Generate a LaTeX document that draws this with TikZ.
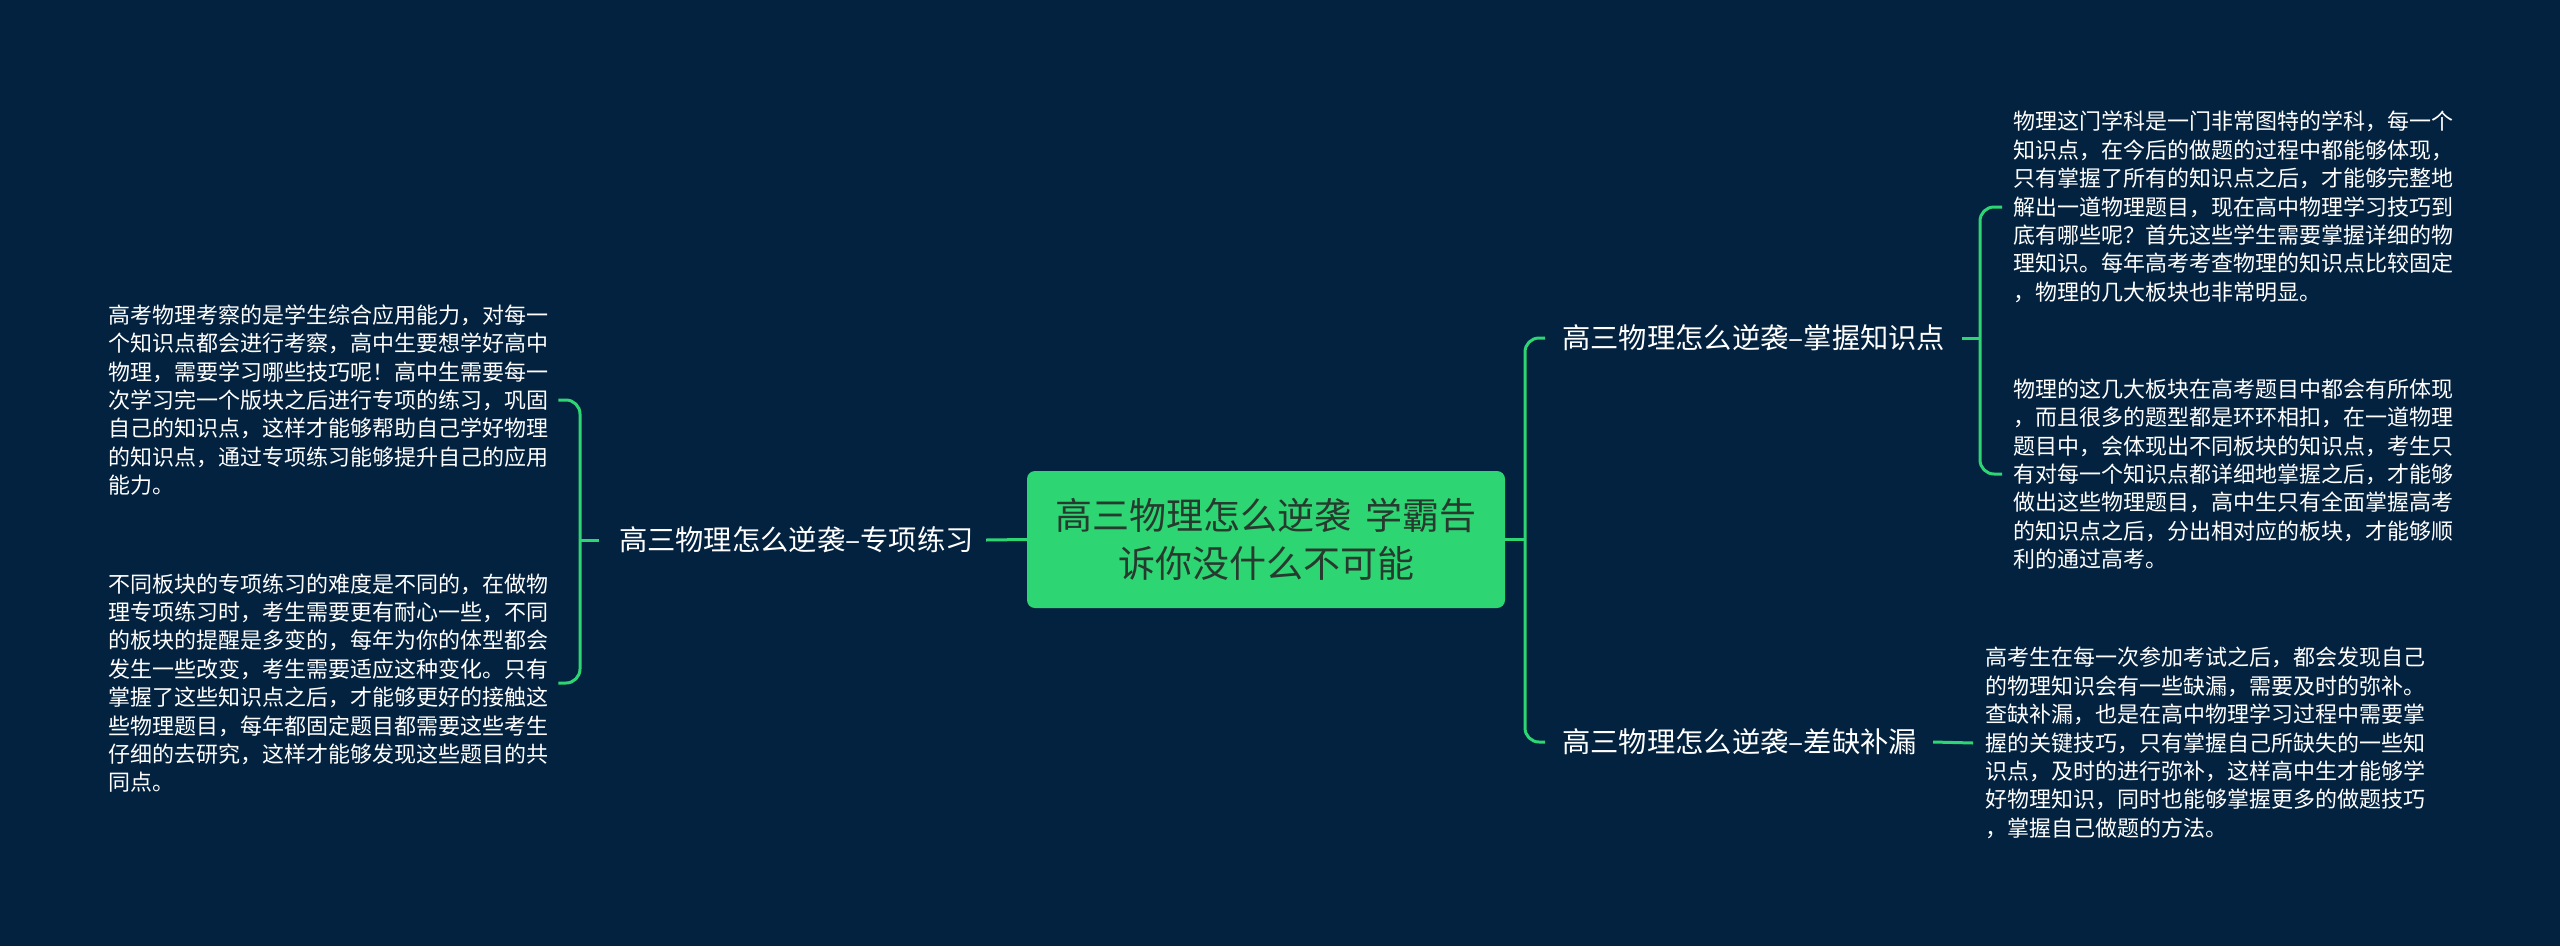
\documentclass[tikz,border=0pt]{standalone}
\usepackage{fontspec}
\setmainfont{Noto Sans CJK SC}
\usetikzlibrary{calc}
\definecolor{bg}{HTML}{03223F}
\definecolor{gr}{HTML}{2ED573}
\definecolor{ctext}{HTML}{263A2E}
\begin{document}
\begin{tikzpicture}[x=1pt,y=-1pt,
  conn/.style={draw=gr,line width=3pt,rounded corners=14pt},
  rootbox/.style={fill=gr,rounded corners=8pt,minimum width=478pt,minimum height=137pt,inner sep=0pt,align=center,text=ctext,font=\fontsize{37}{48}\selectfont},
  branch/.style={inner sep=0pt,text=white,font=\fontsize{28.3}{34}\selectfont},
  leaf/.style={inner sep=0pt,text=white,align=left,font=\fontsize{22}{28.4}\selectfont}]
\fill[bg] (0,0) rectangle (2560,946);
\useasboundingbox (0,0) rectangle (2560,946);

\node[rootbox] (C) at (1266,539.5) {高三物理怎么逆袭\hspace{14pt}学霸告\\诉你没什么不可能};

\node[branch,anchor=east] (L) at (974,540) {高三物理怎么逆袭–专项练习};
\node[branch,anchor=west] (R1) at (1562,338) {高三物理怎么逆袭–掌握知识点};
\node[branch,anchor=west] (R2) at (1562,742) {高三物理怎么逆袭–差缺补漏};

\node[leaf,anchor=west] (L1) at (108,400) {高考物理考察的是学生综合应用能力，对每一\\个知识点都会进行考察，高中生要想学好高中\\物理，需要学习哪些技巧呢！高中生需要每一\\次学习完一个版块之后进行专项的练习，巩固\\自己的知识点，这样才能够帮助自己学好物理\\的知识点，通过专项练习能够提升自己的应用\\能力。};
\node[leaf,anchor=west] (L2) at (108,683) {不同板块的专项练习的难度是不同的，在做物\\理专项练习时，考生需要更有耐心一些，不同\\的板块的提醒是多变的，每年为你的体型都会\\发生一些改变，考生需要适应这种变化。只有\\掌握了这些知识点之后，才能够更好的接触这\\些物理题目，每年都固定题目都需要这些考生\\仔细的去研究，这样才能够发现这些题目的共\\同点。};

\node[leaf,anchor=west] (R1a) at (2013,207) {物理这门学科是一门非常图特的学科，每一个\\知识点，在今后的做题的过程中都能够体现，\\只有掌握了所有的知识点之后，才能够完整地\\解出一道物理题目，现在高中物理学习技巧到\\底有哪些呢？首先这些学生需要掌握详细的物\\理知识。每年高考考查物理的知识点比较固定\\，物理的几大板块也非常明显。};
\node[leaf,anchor=west] (R1b) at (2013,474) {物理的这几大板块在高考题目中都会有所体现\\，而且很多的题型都是环环相扣，在一道物理\\题目中，会体现出不同板块的知识点，考生只\\有对每一个知识点都详细地掌握之后，才能够\\做出这些物理题目，高中生只有全面掌握高考\\的知识点之后，分出相对应的板块，才能够顺\\利的通过高考。};
\node[leaf,anchor=west] (R2a) at (1985,743) {高考生在每一次参加考试之后，都会发现自己\\的物理知识会有一些缺漏，需要及时的弥补。\\查缺补漏，也是在高中物理学习过程中需要掌\\握的关键技巧，只有掌握自己所缺失的一些知\\识点，及时的进行弥补，这样高中生才能够学\\好物理知识，同时也能够掌握更多的做题技巧\\，掌握自己做题的方法。};

\coordinate (LB) at (580,540);
\coordinate (RB) at (1525,539.5);
\coordinate (R1B) at (1980,338);

\draw[conn] (C.west) -- ([xshift=12pt]L.east);
\draw[conn] ([xshift=-20pt]L.west) -- (LB);
\draw[conn] ([xshift=10pt]L1.east) -| (LB) |- ([xshift=10pt]L2.east);

\draw[conn] (C.east) -- (RB);
\draw[conn] ([xshift=-17pt]R1.west) -| (RB) |- ([xshift=-17pt]R2.west);

\draw[conn] ([xshift=17pt]R1.east) -- (R1B);
\draw[conn] ([xshift=-11pt]R1a.west) -| (R1B) |- ([xshift=-11pt]R1b.west);

\draw[conn] ([xshift=16pt]R2.east) -- ([xshift=-12pt]R2a.west);
\end{tikzpicture}
\end{document}
